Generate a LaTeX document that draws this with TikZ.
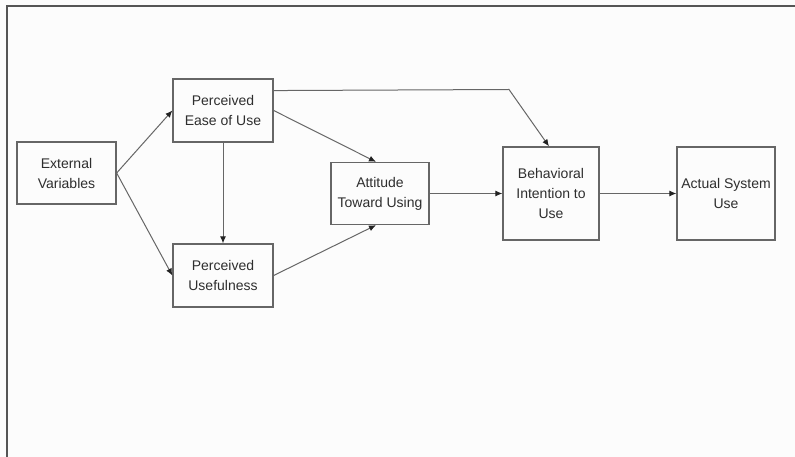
\documentclass[tikz,border=0pt]{standalone}
\usepackage{fontspec}
\setmainfont{Liberation Sans}
\usetikzlibrary{arrows.meta,calc}
\definecolor{framec}{HTML}{555555}
\definecolor{boxc}{HTML}{666666}
\definecolor{txtc}{HTML}{2E2E2E}
\definecolor{tipc}{HTML}{222222}
\definecolor{bgc}{HTML}{FCFCFC}
\begin{document}
\begin{tikzpicture}[x=1bp,y=-1bp,
  box/.style={draw=boxc,line width=1.3bp,rectangle,inner sep=0pt,align=center,
    text=txtc,font=\fontsize{14bp}{20bp}\selectfont},
  conn/.style={draw=boxc,line width=1bp,-{Latex[length=7bp,width=6bp,color=tipc,fill=tipc]}}]
\useasboundingbox (0,0) rectangle (795,457);
\fill[bgc] (0,0) rectangle (795,457);
\draw[framec,line width=2bp] (6.5,457) -- (6.5,6.5) -- (795,6.5);
\node[box,minimum width=99bp,minimum height=62bp] (ev) at (66.5,173) {External\\Variables};
\node[box,minimum width=100bp,minimum height=63bp] (peou) at (223,110.5) {Perceived\\Ease of Use};
\node[box,minimum width=100bp,minimum height=63bp] (pu) at (223,275.5) {Perceived\\Usefulness};
\node[box,minimum width=98bp,minimum height=62bp] (atu) at (380,193.5) {Attitude\\Toward Using};
\node[box,minimum width=96bp,minimum height=93bp] (bi) at (551,193.5) {Behavioral\\Intention to\\Use};
\node[box,minimum width=98bp,minimum height=93bp] (asu) at (726,193.5) {Actual System\\Use};
\coordinate (bend) at (509,89.5);
\draw[conn] (ev.east) -- (peou.west);
\draw[conn] (ev.east) -- (pu.west);
\draw[conn] (peou.south) -- (pu.north);
\draw[conn] (peou.east) -- ([xshift=-4bp]atu.north);
\draw[conn] (pu.east) -- ([xshift=-4bp]atu.south);
\draw[conn] ($(peou.north east)!0.19!(peou.south east)$) -- (bend) -- ([xshift=-2bp]bi.north);
\draw[conn] (atu.east) -- (bi.west);
\draw[conn] (bi.east) -- (asu.west);
\end{tikzpicture}
\end{document}
